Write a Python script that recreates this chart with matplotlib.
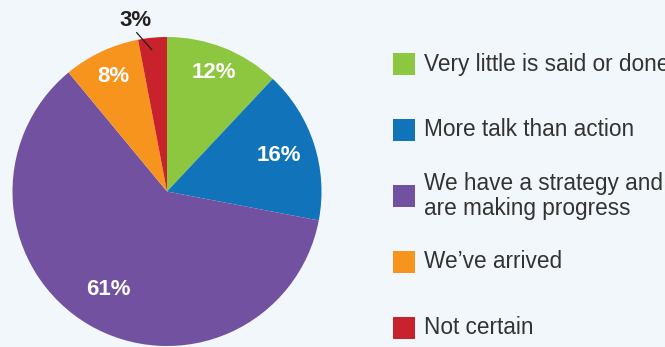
import numpy as np
import matplotlib
matplotlib.use("Agg")
import matplotlib.pyplot as plt
from matplotlib.patches import Rectangle

categories = ["Very little is said or done", "More talk than action",
              "We have a strategy and\nare making progress", "We\u2019ve arrived", "Not certain"]
values = [12, 16, 61, 8, 3]
colors = ["#8DC63F", "#1173BA", "#7251A0", "#F7941E", "#C8232C"]
bg = "#F2F7FB"

# label radii (layout only)
label_r = [0.83, 0.76, 0.74, 0.82, 1.12]

W, H = 665, 347
fig = plt.figure(figsize=(W / 100, H / 100), dpi=100, facecolor=bg)

cx, cy, R = 167, 191.5, 154.5
ax = fig.add_axes([(cx - R) / W, (H - cy - R) / H, 2 * R / W, 2 * R / H])
ax.set_facecolor(bg)
ax.axis("off")

wedges, texts = ax.pie(values, colors=colors, startangle=90, counterclock=False,
                       radius=1.0, wedgeprops=dict(linewidth=0))
ax.set_xlim(-1, 1)
ax.set_ylim(-1, 1)
ax.set_aspect("equal")

font = "Liberation Sans"
for w, v, r in zip(wedges, values, label_r):
    ang = np.deg2rad((w.theta1 + w.theta2) / 2)
    if v >= 5:
        ax.text(r * np.cos(ang), r * np.sin(ang), f"{v}%", ha="center", va="center",
                color="white", fontsize=16, fontweight="bold", family=font)
    else:
        ang_t = ang + np.deg2rad(5)
        ang_l = ang + np.deg2rad(5.5)
        ax.text(r * np.cos(ang_t), r * np.sin(ang_t) + 0.005, f"{v}%", ha="center",
                va="center", color="#231F20", fontsize=16, fontweight="bold",
                family=font, clip_on=False)
        ax.plot([0.92 * np.cos(ang + np.deg2rad(0.6)), 1.05 * np.cos(ang_l)],
                [0.92 * np.sin(ang + np.deg2rad(0.6)), 1.05 * np.sin(ang_l)],
                color="#231F20", lw=0.9, clip_on=False, solid_capstyle="butt")

# legend
lx, ly0, step, sq = 393, 64, 66, 22
for i, (lab, c) in enumerate(zip(categories, colors)):
    yc = ly0 + i * step
    fig.patches.append(Rectangle((lx / W, (H - yc - sq / 2) / H), sq / W, sq / H,
                                 transform=fig.transFigure, facecolor=c, edgecolor="none"))
    fig.text(424 / W, (H - yc) / H, lab, ha="left", va="center", fontsize=16.3,
             color="#333333", family=font, linespacing=1.12)

fig.savefig("out.png", dpi=100, facecolor=bg)
